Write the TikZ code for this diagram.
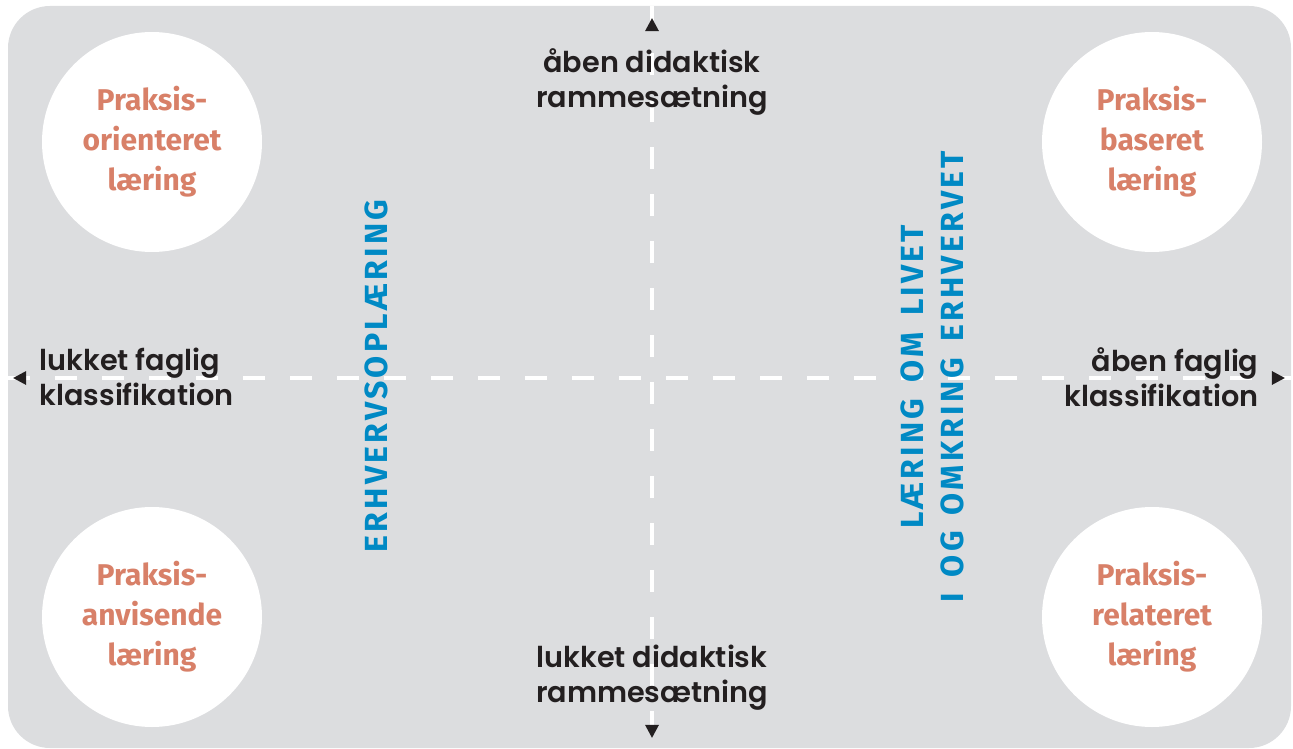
\documentclass[tikz,border=0pt]{standalone}
\usepackage{fontspec}
\setmainfont{Poppins}[BoldFont={Poppins SemiBold}]
\newfontfamily\praksisfont{Fira Sans}
\newfontfamily\niveaufont{Fira Sans}[LetterSpace=10, WordSpace=1.5]
\usetikzlibrary{shapes.geometric}
\definecolor{boxgray}{RGB}{220,221,223}
\definecolor{praksisorange}{RGB}{216,128,104}
\definecolor{niveaublue}{RGB}{0,137,196}
\definecolor{labelblack}{RGB}{35,31,32}

\tikzset{
    praksis/.style={circle, fill=white, minimum size=220pt, inner sep=0pt, align=center,
        text=praksisorange, font=\praksisfont\bfseries\fontsize{30}{40}\selectfont},
    akse/.style={white, line width=4.5pt, dash pattern=on 22pt off 25pt},
    pil/.style={isosceles triangle, isosceles triangle stretches, fill=labelblack, draw=none,
        inner sep=0pt, minimum height=13pt, minimum width=14pt},
    akselabel/.style={text=labelblack, font=\bfseries\fontsize{28.7}{35}\selectfont},
    niveau/.style={rotate=90, align=center, text=niveaublue,
        font=\niveaufont\bfseries\fontsize{32}{40}\selectfont}
}

\begin{document}
\begin{tikzpicture}[x=1pt, y=-1pt]
        \useasboundingbox (0, 0) rectangle (1293, 749);
        \fill[boxgray, rounded corners=42pt] (8, 6) rectangle (1291, 748);
        % akser
        \coordinate (top) at (652, 6);
        \coordinate (bund) at (652, 748);
        \coordinate (venstre) at (8, 378);
        \coordinate (hoejre) at (1291, 378);
        \draw[akse] (venstre) -- (hoejre);
        \draw[akse] (top) -- (bund);
        \node[pil, rotate=90] (piltop) at (652, 27) {};
        \node[pil, rotate=-90] (pilbund) at (652, 729) {};
        \node[pil, rotate=180] (pilvenstre) at (22, 378) {};
        \node[pil] (pilhoejre) at (1276, 378) {};
        % cirkler
        \node[praksis] (orienteret) at (152, 142) {Praksis-\\orienteret\\læring};
        \node[praksis] (baseret) at (1152, 142) {Praksis-\\baseret\\læring};
        \node[praksis] (anvisende) at (152, 617) {Praksis-\\anvisende\\læring};
        \node[praksis] (relateret) at (1152, 617) {Praksis-\\relateret\\læring};
        % aksetekster
        \node[akselabel, align=center] (aabendid) at (652, 82) {åben didaktisk\\rammesætning};
        \node[akselabel, align=center] (lukketdid) at (652, 678) {lukket didaktisk\\rammesætning};
        \node[akselabel, align=left, anchor=west] (lukketfag) at (36, 377) {lukket faglig\\klassifikation};
        \node[akselabel, align=right, anchor=east] (aabenfag) at (1262, 377) {åben faglig\\klassifikation};
        % lodrette tekster
        \node[niveau] (erhverv) at (376, 376) {ERHVERVSOPLÆRING};
        \node[niveau] (livet) at (932, 377) {LÆRING OM LIVET\\I OG OMKRING ERHVERVET};
\end{tikzpicture}
\end{document}
